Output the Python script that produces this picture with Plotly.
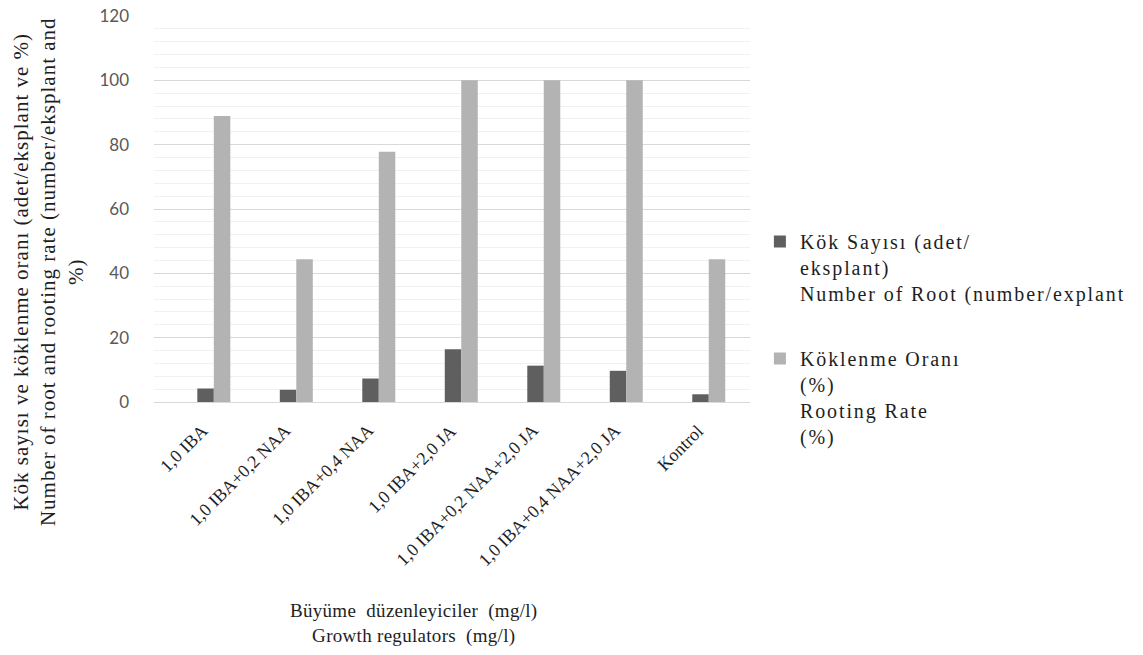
import plotly.graph_objects as go

categories = ["1,0 IBA", "1,0 IBA+0,2 NAA", "1,0 IBA+0,4 NAA", "1,0 IBA+2,0 JA",
              "1,0 IBA+0,2 NAA+2,0 JA", "1,0 IBA+0,4 NAA+2,0 JA", "Kontrol"]
root_number = [4.2, 3.8, 7.3, 16.4, 11.3, 9.7, 2.4]
rooting_rate = [88.9, 44.4, 77.8, 100, 100, 100, 44.4]
y_ticks = [0, 20, 40, 60, 80, 100, 120]

serif = "Liberation Serif, Times New Roman, serif"
TXT = "#1e1e1e"

L, R, T, B = 154, 756, 16, 402
PW, PH = R - L, B - T


def px(xp):
    return (xp - L) / PW


def py(yp):
    return (B - yp) / PH


def sp(lines, ls):
    return "<br>".join(f'<span style="letter-spacing:{ls}px">{s}</span>' for s in lines)


fig = go.Figure()
fig.add_trace(go.Bar(
    x=categories, y=root_number,
    name=sp(["Kök Sayısı (adet/", "eksplant)", "Number of Root (number/explant"], 1.9),
    marker=dict(color="#5f5f5f", line=dict(width=0)),
    legendgroup="a",
))
fig.add_trace(go.Bar(
    x=categories, y=rooting_rate,
    name=sp(["Köklenme Oranı", "(%)", "Rooting Rate", "(%)"], 1.9),
    marker=dict(color="#b3b3b3", line=dict(width=0)),
    legendgroup="b",
))

annotations = [
    dict(
        text=sp(["Kök sayısı ve köklenme oranı (adet/eksplant ve %)",
                 "Number of root and rooting rate (number/eksplant and",
                 "%)"], 1.0),
        textangle=-90, xref="paper", yref="paper",
        x=px(47), y=py(272),
        xanchor="center", yanchor="middle", showarrow=False, align="center",
        font=dict(family=serif, size=21, color=TXT),
    ),
    dict(
        text=sp(["Büyüme  düzenleyiciler  (mg/l)", "Growth regulators  (mg/l)"], 0.3),
        xref="paper", yref="paper",
        x=px(416), y=py(623),
        xanchor="center", yanchor="middle", showarrow=False, align="center",
        font=dict(family=serif, size=19, color=TXT),
    ),
]
for c in categories:
    annotations.append(dict(
        text=c, x=c, xref="x", y=0, yref="y",
        textangle=-45, xanchor="right", yanchor="top",
        xshift=1, yshift=-16, showarrow=False,
        font=dict(family=serif, size=18, color=TXT),
    ))

fig.update_layout(
    width=1143, height=655,
    margin=dict(l=L, r=1143 - R, t=T, b=655 - B),
    paper_bgcolor="white", plot_bgcolor="white",
    barmode="group", bargap=0.6, bargroupgap=0,
    showlegend=True,
    legend=dict(
        x=px(766), y=py(222), xanchor="left", yanchor="top",
        font=dict(family=serif, size=20, color=TXT),
        valign="top", tracegroupgap=36,
        itemwidth=30,
    ),
    xaxis=dict(
        showticklabels=False, automargin=False,
        showline=True, linecolor="#d9d9d9", linewidth=1,
        showgrid=False, ticks="",
    ),
    yaxis=dict(
        range=[0, 120], tickvals=y_ticks, automargin=False,
        tickfont=dict(family="Lato, Open Sans, sans-serif", size=17, color="#595959"),
        ticklabeloverflow="allow",
        showgrid=True, gridcolor="#d9d9d9", gridwidth=1,
        zeroline=False, showline=False,
        ticklabelstandoff=24,
        minor=dict(dtick=4, showgrid=True, gridcolor="#f0f0f0", gridwidth=1),
    ),
    annotations=annotations,
)

fig.write_html(
    "out.html",
    config={"displayModeBar": False},
    post_script="document.body.style.margin='0';document.body.style.overflow='hidden';",
)
